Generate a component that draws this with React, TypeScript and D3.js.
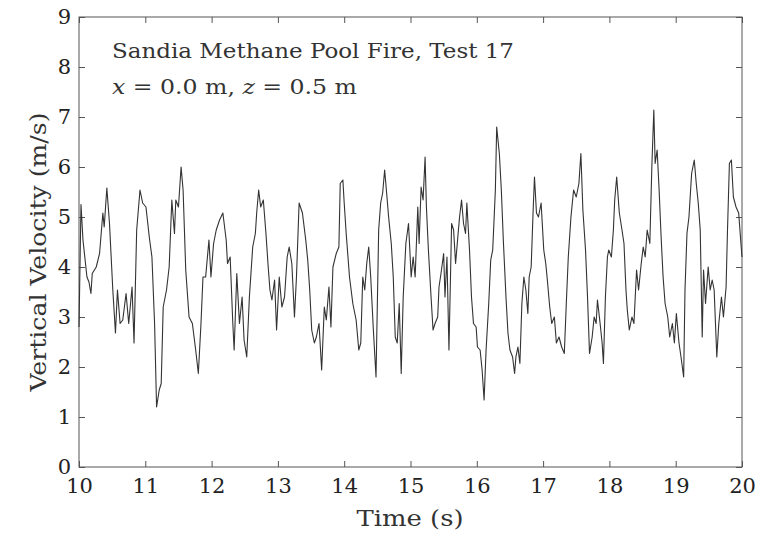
import React, { useEffect, useRef } from 'react';
import * as d3 from 'd3';

// time (s) and vertical velocity (m/s)
const time = [
  10.00, 10.03, 10.06, 10.12, 10.15, 10.18, 10.20, 10.26, 10.31, 10.36, 10.38, 10.42, 10.46, 10.51, 10.55, 10.58,
  10.62, 10.66, 10.71, 10.75, 10.80, 10.83, 10.87, 10.92, 10.96, 11.01, 11.06, 11.10, 11.14, 11.17, 11.21, 11.24,
  11.27, 11.32, 11.36, 11.40, 11.44, 11.46, 11.50, 11.54, 11.57, 11.61, 11.66, 11.71, 11.76, 11.80, 11.84, 11.87,
  11.91, 11.96, 11.99, 12.03, 12.07, 12.12, 12.17, 12.22, 12.24, 12.28, 12.32, 12.34, 12.38, 12.42, 12.46, 12.49,
  12.53, 12.57, 12.62, 12.66, 12.68, 12.71, 12.74, 12.78, 12.82, 12.85, 12.88, 12.91, 12.95, 12.98, 13.02, 13.06,
  13.10, 13.14, 13.17, 13.21, 13.25, 13.28, 13.32, 13.37, 13.42, 13.45, 13.48, 13.51, 13.55, 13.58, 13.62, 13.66,
  13.70, 13.73, 13.77, 13.80, 13.83, 13.88, 13.92, 13.94, 13.98, 14.00, 14.03, 14.08, 14.13, 14.18, 14.22, 14.25,
  14.28, 14.31, 14.34, 14.37, 14.40, 14.44, 14.48, 14.52, 14.55, 14.58, 14.61, 14.64, 14.67, 14.71, 14.74, 14.77,
  14.80, 14.83, 14.86, 14.89, 14.93, 14.97, 15.01, 15.04, 15.07, 15.11, 15.13, 15.16, 15.19, 15.22, 15.24, 15.27,
  15.31, 15.34, 15.37, 15.41, 15.43, 15.46, 15.50, 15.52, 15.55, 15.58, 15.62, 15.65, 15.68, 15.71, 15.74, 15.77,
  15.80, 15.83, 15.85, 15.89, 15.92, 15.95, 15.99, 16.01, 16.05, 16.08, 16.11, 16.14, 16.18, 16.21, 16.24, 16.28,
  16.30, 16.34, 16.37, 16.40, 16.44, 16.47, 16.50, 16.54, 16.57, 16.59, 16.62, 16.65, 16.68, 16.71, 16.74, 16.77,
  16.79, 16.82, 16.85, 16.87, 16.90, 16.93, 16.97, 17.01, 17.04, 17.06, 17.10, 17.13, 17.17, 17.20, 17.24, 17.28,
  17.32, 17.35, 17.38, 17.42, 17.46, 17.50, 17.54, 17.57, 17.60, 17.64, 17.67, 17.70, 17.74, 17.77, 17.80, 17.82,
  17.86, 17.89, 17.91, 17.94, 17.97, 17.99, 18.03, 18.06, 18.08, 18.11, 18.15, 18.19, 18.22, 18.25, 18.27, 18.30,
  18.34, 18.37, 18.41, 18.44, 18.48, 18.51, 18.54, 18.57, 18.61, 18.64, 18.67, 18.69, 18.72, 18.75, 18.78, 18.81,
  18.84, 18.88, 18.91, 18.95, 18.98, 19.01, 19.05, 19.08, 19.12, 19.14, 19.17, 19.20, 19.24, 19.28, 19.31, 19.34,
  19.37, 19.40, 19.42, 19.45, 19.49, 19.52, 19.55, 19.58, 19.62, 19.65, 19.69, 19.72, 19.76, 19.78, 19.81, 19.84,
  19.87, 19.91, 19.95, 19.98, 20.00
];
const velocity = [
  2.80, 5.25, 4.54, 3.80, 3.70, 3.47, 3.87, 4.00, 4.27, 5.08, 4.80, 5.58, 4.87, 3.54, 2.68, 3.54,
  2.87, 2.94, 3.47, 2.87, 3.60, 2.48, 4.74, 5.54, 5.28, 5.20, 4.60, 4.20, 2.87, 1.20, 1.54, 1.67,
  3.20, 3.54, 4.00, 5.34, 4.67, 5.34, 5.20, 6.00, 5.54, 3.94, 3.00, 2.87, 2.34, 1.87, 2.87, 3.80,
  3.80, 4.54, 3.80, 4.47, 4.74, 4.94, 5.08, 4.54, 4.07, 4.20, 2.87, 2.34, 3.87, 2.87, 3.40, 2.54,
  2.20, 3.40, 4.40, 4.67, 5.08, 5.54, 5.20, 5.34, 4.67, 4.07, 3.54, 3.34, 3.74, 2.74, 3.80, 3.20,
  3.40, 4.20, 4.40, 4.07, 3.00, 3.80, 5.28, 5.08, 4.54, 4.14, 3.54, 2.74, 2.48, 2.60, 2.87, 1.94,
  3.20, 2.94, 3.60, 2.80, 4.00, 4.27, 4.40, 5.67, 5.74, 5.28, 4.67, 3.80, 3.27, 2.94, 2.34, 2.48,
  3.80, 3.54, 4.07, 4.40, 3.80, 2.74, 1.80, 4.74, 5.28, 5.48, 5.94, 5.48, 5.00, 4.47, 3.80, 2.60,
  2.48, 3.27, 1.87, 3.40, 4.47, 4.87, 3.80, 4.20, 3.80, 5.20, 4.47, 5.60, 5.34, 6.20, 5.20, 4.34,
  3.40, 2.74, 2.87, 3.00, 3.60, 3.87, 4.27, 3.40, 4.20, 2.34, 4.87, 4.74, 4.07, 4.54, 5.00, 5.34,
  4.87, 4.67, 5.28, 4.34, 3.40, 2.87, 2.80, 2.40, 2.34, 1.94, 1.34, 2.34, 3.27, 4.14, 4.34, 5.54,
  6.80, 6.27, 5.54, 4.54, 3.40, 2.68, 2.34, 2.20, 1.87, 2.20, 2.40, 2.07, 3.27, 3.80, 3.54, 3.07,
  3.80, 4.00, 5.14, 5.80, 5.08, 5.00, 5.28, 4.34, 4.07, 3.80, 3.20, 2.87, 3.00, 2.48, 2.60, 2.40,
  2.27, 3.27, 4.20, 5.00, 5.54, 5.40, 5.67, 6.27, 5.14, 4.34, 3.40, 2.27, 2.60, 3.00, 2.87, 3.34,
  2.87, 2.48, 2.07, 3.40, 4.20, 4.34, 4.20, 4.74, 5.34, 5.80, 5.08, 4.74, 4.47, 3.54, 3.14, 2.74,
  3.00, 2.87, 3.94, 3.54, 4.07, 4.40, 4.20, 4.74, 4.47, 6.00, 7.14, 6.07, 6.34, 5.54, 4.60, 3.80,
  3.27, 3.00, 2.60, 2.87, 2.48, 3.07, 2.48, 2.20, 1.80, 3.54, 4.67, 5.00, 5.87, 6.14, 5.67, 5.28,
  4.74, 2.60, 3.94, 3.27, 4.00, 3.54, 3.74, 3.54, 2.20, 2.87, 3.40, 3.00, 3.60, 4.67, 6.07, 6.14,
  5.40, 5.20, 5.08, 4.54, 4.20
];
const xTicks = [10, 11, 12, 13, 14, 15, 16, 17, 18, 19, 20];
const yTicks = [0, 1, 2, 3, 4, 5, 6, 7, 8, 9];

const W = 773;
const H = 539;
const font = '"DejaVu Serif", "Liberation Serif", serif';

export default function App() {
  const ref = useRef<SVGSVGElement>(null);

  useEffect(() => {
    const svg = d3.select(ref.current);
    svg.selectAll('*').remove();

    const x = d3.scaleLinear().domain([10, 20]).range([79, 742]);
    const y = d3.scaleLinear().domain([0, 9]).range([467, 17]);

    const axisColor = '#555';

    // frame
    svg.append('rect')
      .attr('x', x(10)).attr('y', y(9))
      .attr('width', x(20) - x(10)).attr('height', y(0) - y(9))
      .attr('fill', 'none').attr('stroke', axisColor).attr('stroke-width', 1);

    const styleAxis = (g: any) => {
      g.select('.domain').remove();
      g.selectAll('.tick line').attr('stroke', axisColor);
      g.selectAll('.tick text')
        .attr('font-family', font).attr('font-size', 21).attr('fill', '#222');
    };

    svg.append('g').attr('transform', `translate(0,${y(0)})`)
      .call(d3.axisBottom(x).tickValues(xTicks).tickSizeInner(-6).tickSizeOuter(0).tickPadding(11).tickFormat(d3.format('d')))
      .call(styleAxis);
    svg.append('g').attr('transform', `translate(0,${y(9)})`)
      .call(d3.axisTop(x).tickValues(xTicks).tickSizeInner(-6).tickSizeOuter(0).tickFormat(() => ''))
      .call(styleAxis);
    svg.append('g').attr('transform', `translate(${x(10)},0)`)
      .call(d3.axisLeft(y).tickValues(yTicks).tickSizeInner(-6).tickSizeOuter(0).tickPadding(8).tickFormat(d3.format('d')))
      .call(styleAxis);
    svg.append('g').attr('transform', `translate(${x(20)},0)`)
      .call(d3.axisRight(y).tickValues(yTicks).tickSizeInner(-6).tickSizeOuter(0).tickFormat(() => ''))
      .call(styleAxis);

    const pts = time.map((t, i) => [t, velocity[i]] as [number, number]);
    const line = d3.line<[number, number]>().x(d => x(d[0])).y(d => y(d[1]));
    svg.append('path')
      .attr('d', line(pts))
      .attr('fill', 'none').attr('stroke', '#333').attr('stroke-width', 1.1)
      .attr('stroke-linejoin', 'round');

    // annotation
    svg.append('text')
      .attr('x', 112).attr('y', 58)
      .attr('font-family', font).attr('font-size', 20).attr('fill', '#333')
      .attr('textLength', 402).attr('lengthAdjust', 'spacingAndGlyphs')
      .text('Sandia Methane Pool Fire, Test 17');
    const t2 = svg.append('text')
      .attr('x', 112).attr('y', 94)
      .attr('font-family', font).attr('font-size', 20).attr('fill', '#333')
      .attr('textLength', 245).attr('lengthAdjust', 'spacingAndGlyphs');
    t2.append('tspan').attr('font-style', 'italic').text('x');
    t2.append('tspan').text(' = 0.0 m, ');
    t2.append('tspan').attr('font-style', 'italic').text('z');
    t2.append('tspan').text(' = 0.5 m');

    // axis titles
    svg.append('text')
      .attr('x', 410).attr('y', 526)
      .attr('text-anchor', 'middle')
      .attr('font-family', font).attr('font-size', 23).attr('fill', '#333')
      .attr('textLength', 107).attr('lengthAdjust', 'spacingAndGlyphs')
      .text('Time (s)');
    svg.append('text')
      .attr('transform', `translate(46,${(y(0) + y(9)) / 2 + 10}) rotate(-90)`)
      .attr('text-anchor', 'middle')
      .attr('font-family', font).attr('font-size', 22).attr('fill', '#333')
      .attr('textLength', 279).attr('lengthAdjust', 'spacingAndGlyphs')
      .text('Vertical Velocity (m/s)');
  }, []);

  return (
    <svg ref={ref} width={W} height={H}
      style={{ position: 'absolute', left: 0, top: 0, background: '#fff' }} />
  );
}
